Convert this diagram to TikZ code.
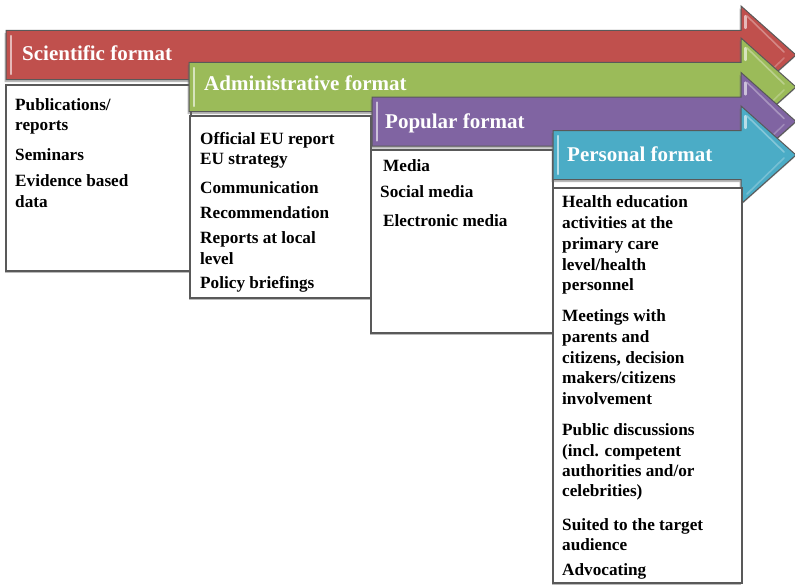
\documentclass[tikz,border=0pt]{standalone}
\usepackage{fontspec}
\setmainfont{Liberation Serif}
\usetikzlibrary{shadows}
\definecolor{cred}{HTML}{C0504D}
\definecolor{cgreen}{HTML}{9BBB59}
\definecolor{cpurple}{HTML}{8064A2}
\definecolor{ccyan}{HTML}{4BACC6}
\newcommand\fmtarrow[3]{%
  \draw[arrowst, fill=#3] (#1,#2-24.5) -- (741,#2-24.5) -- (741,#2-49) -- (796,#2)
     -- (741,#2+49) -- (741,#2+24.5) -- (#1,#2+24.5) -- cycle;
  \draw[#3!40!white, line width=2.5pt, line cap=round] (#1+5,#2-19) -- (#1+5,#2+19);
  \draw[#3!40!white, line width=2.2pt, line cap=round] (745.5,#2-39) -- (745.5,#2-27);
  \draw[#3!60!white, line width=1.6pt, line cap=round, opacity=.8] (747,#2-39) -- (784,#2-3);
  \draw[#3!60!white, line width=1.6pt, line cap=round, opacity=.6] (747,#2+39) -- (784,#2+3);
}
\begin{document}
\begin{tikzpicture}[x=1pt,y=-1pt,
  arrowst/.style={draw=black!65, line width=1pt, line join=miter,
    drop shadow={shadow xshift=-1.5pt, shadow yshift=-2.5pt, opacity=.45, fill=black!60}},
  boxst/.style={draw=black!65, line width=1.2pt, fill=white,
    drop shadow={shadow xshift=-1.5pt, shadow yshift=-2pt, opacity=.45, fill=black!60}},
  title/.style={anchor=base west, inner sep=0pt, text=white, font=\fontsize{21}{25}\selectfont\bfseries},
  txt/.style={anchor=base west, inner sep=0pt, font=\fontsize{17.2}{20}\selectfont\bfseries},
]
\useasboundingbox[fill=white] (0,0) rectangle (795,586);

% Scientific
\fmtarrow{6}{55}{cred}
\node[title] (t1) at (22,60) {Scientific format};
\draw[boxst] (6,85) rectangle (191,271);
\node[txt] (s1) at (15,110.7) {Publications/};
\node[txt] (s2) at (15,130.7) {reports};
\node[txt] (s3) at (15,160) {Seminars};
\node[txt] (s4) at (15,186.7) {Evidence based};
\node[txt] (s5) at (15,207.5) {data};

% Administrative
\fmtarrow{189}{87}{cgreen}
\node[title] (t2) at (204,90.5) {Administrative format};
\draw[boxst] (190,116) rectangle (371,298);
\node[txt] (a1) at (200,144.3) {Official EU report};
\node[txt] (a2) at (200,164.3) {EU strategy};
\node[txt] (a3) at (200,193.3) {Communication};
\node[txt] (a4) at (200,218.3) {Recommendation};
\node[txt] (a5) at (200,243.3) {Reports at local};
\node[txt] (a6) at (200,264) {level};
\node[txt] (a7) at (200,288.3) {Policy briefings};

% Popular
\fmtarrow{372}{121.5}{cpurple}
\node[title] (t3) at (385,128) {Popular format};
\draw[boxst] (371,150) rectangle (553,333);
\node[txt] (p1) at (383,171.7) {Media};
\node[txt] (p2) at (380,197.3) {Social media};
\node[txt] (p3) at (383,226) {Electronic media};

% Personal
\fmtarrow{553}{155}{ccyan}
\node[title] (t4) at (567,161.7) {Personal format};
\draw[boxst] (553,188) rectangle (742,583);
\node[txt] (q1) at (562,207.7) {Health education};
\node[txt] (q2) at (562,228.3) {activities at the};
\node[txt] (q3) at (562,249) {primary care};
\node[txt] (q4) at (562,270) {level/health};
\node[txt] (q5) at (562,290) {personnel};
\node[txt] (q6) at (562,321.7) {Meetings with};
\node[txt] (q7) at (562,342.7) {parents and};
\node[txt] (q8) at (562,363) {citizens, decision};
\node[txt] (q9) at (562,383) {makers/citizens};
\node[txt] (q10) at (562,404) {involvement};
\node[txt] (q11) at (562,435) {Public discussions};
\node[txt] (q12) at (562,456) {(incl. competent};
\node[txt] (q13) at (562,476.7) {authorities and/or};
\node[txt] (q14) at (562,496.7) {celebrities)};
\node[txt] (q15) at (562,530) {Suited to the target};
\node[txt] (q16) at (562,550.7) {audience};
\node[txt] (q17) at (562,575) {Advocating};
\end{tikzpicture}
\end{document}
